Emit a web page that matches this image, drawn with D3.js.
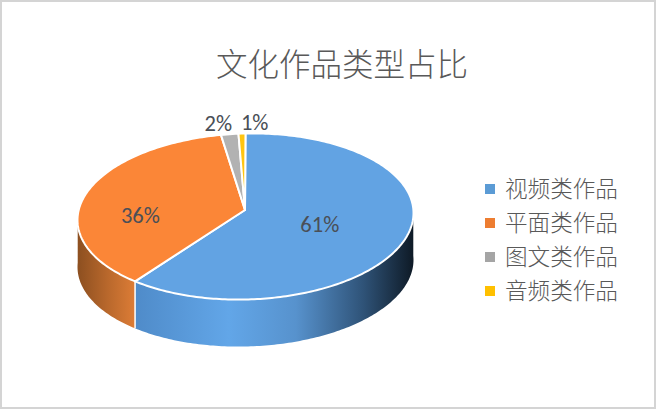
<!DOCTYPE html>
<html>
<head>
<meta charset="utf-8">
<script src="https://cdn.jsdelivr.net/npm/d3@7"></script>
<style>
  html, body { margin: 0; padding: 0; background: #fff; }
  svg { display: block; }
  text { font-family: "Noto Sans CJK SC", sans-serif; fill: #595959; }
</style>
</head>
<body>
<svg id="chart" width="656" height="409"></svg>
<script>
const chartTitle = "文化作品类型占比";
const categories = ["视频类作品", "平面类作品", "图文类作品", "音频类作品"];
const shares = [61, 36, 2, 1];
const topColors = ["#62a3e3", "#fb8637", "#b2b2b2", "#ffc512"];
const legendColors = ["#5b9bd5", "#ed7d31", "#a5a5a5", "#ffc000"];

const svg = d3.select("#chart");
const width = 656, height = 409;

// frame
svg.append("rect")
    .attr("x", 1).attr("y", 1)
    .attr("width", width - 2).attr("height", height - 2)
    .attr("fill", "#fff").attr("stroke", "#d4d4d4").attr("stroke-width", 2);

svg.append("text")
    .attr("x", 342).attr("y", 76)
    .attr("text-anchor", "middle")
    .attr("font-size", 31.5)
    .style("font-weight", 300)
    .text(chartTitle);

// tilted pie: angle 0 is at the top of the ellipse, clockwise
const cx = 245.5, cy = 216.5, rx = 168, ry = 83, depth = 47;
const apex = [245, 210];
const rim = (a, r = 1, drop = 0) => [
    cx + rx * r * Math.sin(a),
    cy - (ry * Math.cos(a) + 3.5 * Math.sin(a)) * r + drop
];
const line = d3.line();
const step = Math.PI / 180;
const arcPoints = (a0, a1, drop = 0) => d3.range(a0, a1, step).concat(a1).map(a => rim(a, 1, drop));

// perspective squeezes the far side of the pie, so slice edges shift a little
const warp = d3.scaleLinear()
    .domain([0, 180, 219.6, 349.2, 356.4, 360].map(d => d * Math.PI / 180))
    .range([0, 180, 221.1, 351.6, 357.6, 360].map(d => d * Math.PI / 180));

const slices = d3.pie().value(d => d).sort(null)(shares);

// side wall gradients
const defs = svg.append("defs");
const xPos = d3.scaleLinear().domain([0, 1]).range([cx - rx, cx + rx]);

function sideGradient(id, stops) {
    const g = defs.append("linearGradient").attr("id", id)
        .attr("gradientUnits", "userSpaceOnUse")
        .attr("x1", xPos(0)).attr("x2", xPos(1)).attr("y1", 0).attr("y2", 0);
    stops.forEach(s => g.append("stop").attr("offset", s[0]).attr("stop-color", s[1]));
}
sideGradient("side0", [[0.17, "#4f8bc9"], [0.45, "#62a6e8"], [0.65, "#5792cd"], [0.85, "#2f5378"], [1, "#0e1a26"]]);
sideGradient("side1", [[0, "#8c4f20"], [0.09, "#b9682c"], [0.17, "#dc7c36"]]);

const frontStart = Math.PI / 2 - 0.05, frontEnd = Math.PI * 1.5 + 0.05;
slices.slice(0, 2).forEach((s, i) => {
    const a0 = Math.max(warp(s.startAngle), frontStart), a1 = Math.min(warp(s.endAngle), frontEnd);
    svg.append("path")
        .attr("d", line(arcPoints(a0, a1).concat(arcPoints(a0, a1, depth).reverse())) + "Z")
        .attr("fill", "url(#side" + i + ")");
});

// white edge where the two walls meet
const wallEdge = warp(slices[0].endAngle);
svg.append("path")
    .attr("d", line([rim(wallEdge), rim(wallEdge, 1, depth)]))
    .attr("stroke", "#fff").attr("stroke-width", 1.5).attr("fill", "none");

// top face
svg.append("g").selectAll("path").data(slices).join("path")
    .attr("d", d => line([apex].concat(arcPoints(warp(d.startAngle), warp(d.endAngle)))) + "Z")
    .attr("fill", (d, i) => topColors[i])
    .attr("stroke", "#fff").attr("stroke-width", 2).attr("stroke-linejoin", "round");

// percent labels, placed from each slice's middle angle
const labelRadius = [0.47, 0.64, 1.1, 1.1];
const labelNudge = [[0, -4], [-1, 10], [-4, -3], [15, -3]];
svg.append("g").selectAll("text").data(slices).join("text")
    .attr("x", (d, i) => rim((d.startAngle + d.endAngle) / 2, labelRadius[i])[0] + labelNudge[i][0])
    .attr("y", (d, i) => rim((d.startAngle + d.endAngle) / 2, labelRadius[i])[1] + labelNudge[i][1])
    .attr("text-anchor", "middle")
    .attr("dy", "0.35em")
    .attr("font-size", 22.5)
    .style("font-family", "Carlito, 'Liberation Sans', sans-serif")
    .style("fill", "#4a4f57")
    .text(d => d.value + "%");

// legend
const legendY = d3.scalePoint().domain(categories).range([189, 291]);
const legend = svg.append("g").selectAll("g").data(categories).join("g")
    .attr("transform", d => "translate(0," + legendY(d) + ")");
legend.append("rect")
    .attr("x", 485).attr("y", -5)
    .attr("width", 10).attr("height", 10)
    .attr("fill", (d, i) => legendColors[i]);
legend.append("text")
    .attr("x", 505).attr("dy", "0.36em")
    .attr("font-size", 22.6)
    .style("font-weight", 300)
    .text(d => d);
</script>
</body>
</html>
